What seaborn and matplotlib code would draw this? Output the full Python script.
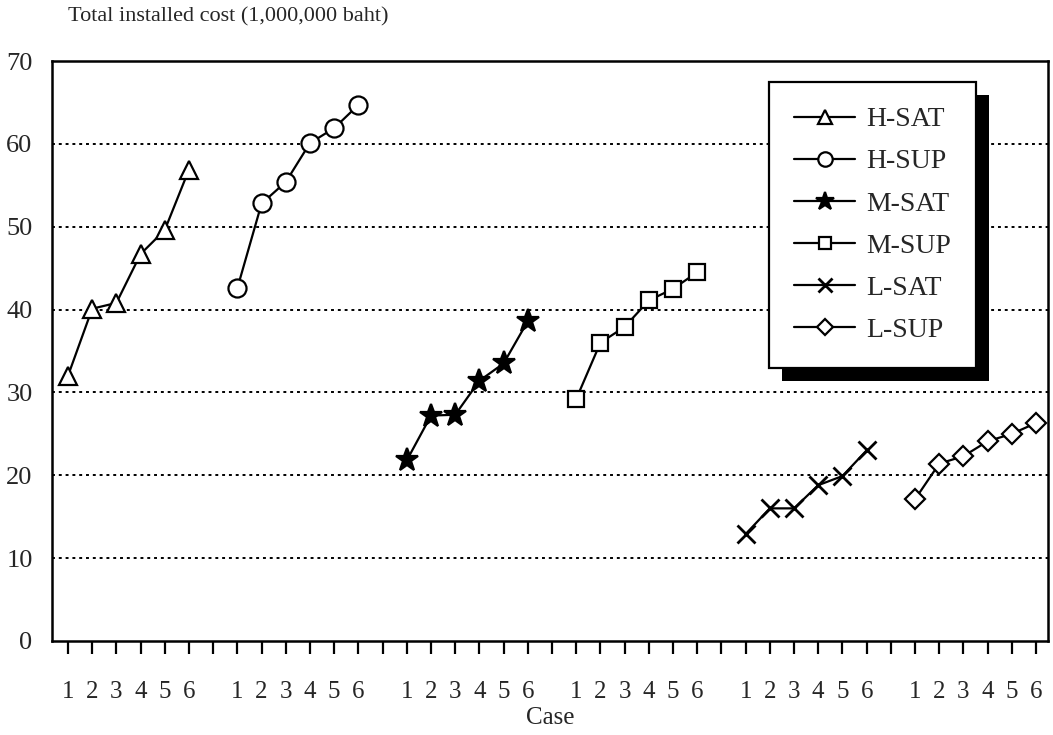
import numpy as np
import pandas as pd
import seaborn as sns
import matplotlib.pyplot as plt
from matplotlib.patches import Rectangle

sns.set_theme(style="white")
plt.rcParams['font.family'] = ['Liberation Serif', 'DejaVu Serif']

# data
series = ["H-SAT", "H-SUP", "M-SAT", "M-SUP", "L-SAT", "L-SUP"]
cases = [1, 2, 3, 4, 5, 6]
h_sat = [32.0, 40.1, 40.8, 46.7, 49.6, 56.9]
h_sup = [42.6, 52.8, 55.4, 60.1, 61.9, 64.7]
m_sat = [21.8, 27.2, 27.3, 31.4, 33.5, 38.6]
m_sup = [29.2, 36.0, 37.9, 41.1, 42.5, 44.5]
l_sat = [12.9, 16.0, 16.0, 18.8, 19.9, 23.0]
l_sup = [17.1, 21.4, 22.3, 24.1, 25.0, 26.3]
values = [h_sat, h_sup, m_sat, m_sup, l_sat, l_sup]

markers = {"H-SAT": "^", "H-SUP": "o", "M-SAT": "*",
           "M-SUP": "s", "L-SAT": "x", "L-SUP": "D"}
msize = {"H-SAT": 13, "H-SUP": 13, "M-SAT": 17,
         "M-SUP": 11, "L-SAT": 13, "L-SUP": 10}

# each group takes 7 slots on the x axis (6 cases + 1 gap)
rows = []
for g, (name, vals) in enumerate(zip(series, values)):
    for c, v in zip(cases, vals):
        rows.append({"series": name, "case": c, "pos": g * 7 + c - 1, "cost": v})
df = pd.DataFrame(rows)

fig = plt.figure(figsize=(10.53, 7.35), dpi=100)
ax = fig.add_axes([0.0494, 0.128, 0.946, 0.789])

for name in series:
    sub = df[df["series"] == name]
    filled = name == "M-SAT"
    sns.lineplot(data=sub, x="pos", y="cost", ax=ax, color="black", lw=1.6,
                 marker=markers[name], markersize=msize[name],
                 markerfacecolor="black" if filled else "white",
                 markeredgecolor="black", markeredgewidth=2.0 if name == "L-SAT" else 1.6,
                 label=name, zorder=3)

ax.set_xlim(-0.66, 40.5)
ax.set_ylim(0, 70)
ax.set_yticks(range(0, 71, 10))
ax.set_yticklabels([str(v) for v in range(0, 71, 10)])
ticks = np.arange(41)
ax.set_xticks(ticks)
ax.set_xticklabels([str(t % 7 + 1) if t % 7 < 6 else "" for t in ticks])

for y in range(10, 70, 10):
    ax.axhline(y, color="black", lw=1.4, ls=(0, (1.5, 2.0)), zorder=1)

for s in ax.spines.values():
    s.set_color("black")
    s.set_linewidth(1.8)

ax.tick_params(axis="x", direction="out", length=9, width=1.6, color="black",
               pad=20, labelsize=18, bottom=True)
ax.tick_params(axis="y", length=0, pad=14, labelsize=19)
ax.set_xlabel("Case", fontsize=18, labelpad=3)
ax.set_ylabel("")

fig.text(0.065, 0.977, "Total installed cost (1,000,000 baht)",
         fontsize=16, va="center", ha="left")

leg = ax.legend(loc="upper left", bbox_to_anchor=(0.72, 0.964), borderaxespad=0,
                fancybox=False, framealpha=1, edgecolor="black", fontsize=20,
                handlelength=2.2, handletextpad=0.4, labelspacing=0.6,
                borderpad=0.9, markerscale=0.8)
leg.get_frame().set_linewidth(1.6)
leg.set_zorder(6)

# heavy drop shadow behind the legend box
fig.canvas.draw()
bb = leg.get_window_extent().transformed(ax.transAxes.inverted())
dx = 13 / (ax.bbox.width)
dy = 13 / (ax.bbox.height)
ax.add_patch(Rectangle((bb.x0 + dx, bb.y0 - dy), bb.width, bb.height,
                       transform=ax.transAxes, facecolor="black",
                       edgecolor="none", zorder=5, clip_on=False))

fig.savefig("out.png", dpi=100)
